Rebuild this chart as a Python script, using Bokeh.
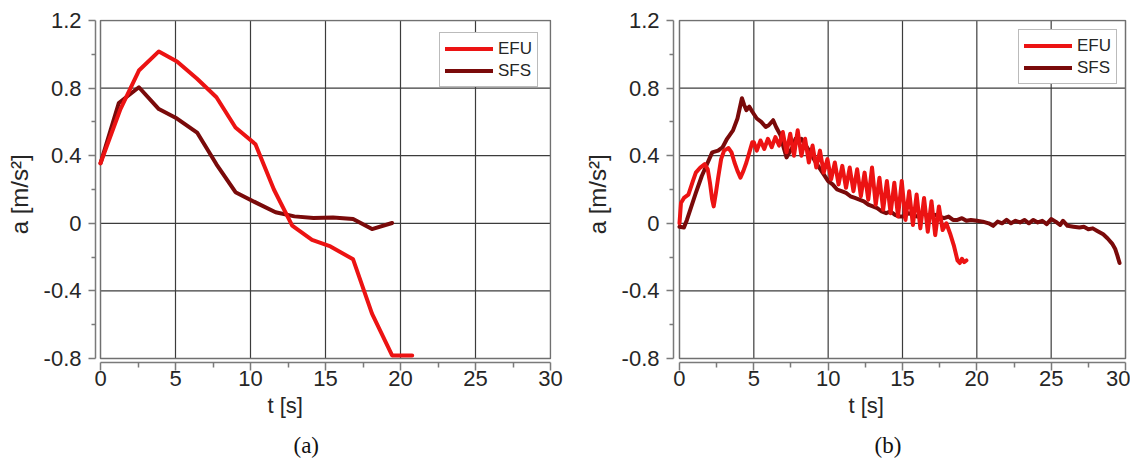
from bokeh.plotting import figure
from bokeh.models import Range1d, FixedTicker, NumeralTickFormatter, Legend, LegendItem, Title
from bokeh.layouts import row
from bokeh.embed import file_html
from bokeh.resources import INLINE

# ---------------- data ----------------
x_ticks = [0, 5, 10, 15, 20, 25, 30]
x_minor = [2.5, 7.5, 12.5, 17.5, 22.5, 27.5]
y_ticks = [-0.8, -0.4, 0, 0.4, 0.8, 1.2]
y_minor = [-0.6, -0.2, 0.2, 0.6, 1.0]
y_tick_labels = ["-0.8", "-0.4", "0", "0.4", "0.8", "1.2"]
x_label = "t [s]"
y_label = "a  [m/s\u00b2]"
series_names = ["EFU", "SFS"]
captions = ["(a)", "(b)"]

# panel (a)
a_efu_t = [0.0, 1.33, 2.56, 3.89, 5.1, 6.44, 7.73, 9.0, 10.33, 11.56, 12.78, 14.1, 15.33, 16.84, 18.1, 19.44, 20.78]
a_efu_a = [0.355, 0.676, 0.904, 1.017, 0.958, 0.855, 0.746, 0.567, 0.468, 0.2, -0.014, -0.098, -0.137, -0.213, -0.534, -0.782, -0.782]
a_sfs_t = [0.0, 1.22, 2.56, 3.89, 5.1, 6.44, 7.73, 9.0, 10.33, 11.67, 12.93, 14.2, 15.5, 16.84, 18.1, 19.44]
a_sfs_a = [0.355, 0.712, 0.805, 0.676, 0.62, 0.537, 0.349, 0.184, 0.124, 0.065, 0.041, 0.031, 0.035, 0.026, -0.034, 0.002]

# panel (b)
b_efu_t = [0.0, 0.1, 0.3, 0.6, 0.9, 1.1, 1.4, 1.7, 1.9, 2.05, 2.2, 2.3, 2.45, 2.6, 2.8, 3.0, 3.3, 3.5, 3.7, 3.9,
           4.1, 4.3, 4.5, 4.7, 4.9,
           5.0, 5.2, 5.45, 5.7, 5.95, 6.2, 6.45, 6.7, 6.95, 7.2, 7.45, 7.7, 7.95, 8.2, 8.45, 8.7, 8.95, 9.2, 9.45, 9.7,
           9.95, 10.2, 10.45, 10.7, 10.95, 11.2, 11.45, 11.7, 11.95, 12.2, 12.45, 12.7, 12.95, 13.2, 13.45, 13.7,
           13.95, 14.2, 14.45, 14.7, 14.95, 15.2, 15.45, 15.7, 15.95, 16.2, 16.45, 16.7, 16.95, 17.2, 17.45, 17.7,
           17.95, 18.2, 18.45, 18.7, 18.85, 19.0, 19.15, 19.3]
b_efu_a = [0.0, 0.12, 0.15, 0.17, 0.25, 0.30, 0.33, 0.35, 0.32, 0.24, 0.14, 0.10, 0.18, 0.27, 0.38, 0.43, 0.445, 0.42, 0.36, 0.31,
           0.27, 0.31, 0.36, 0.42, 0.48,
           0.48, 0.43, 0.49, 0.44, 0.50, 0.45, 0.51, 0.46, 0.54, 0.42, 0.53, 0.40, 0.55, 0.40, 0.50, 0.36, 0.46, 0.33, 0.43, 0.30,
           0.38, 0.26, 0.36, 0.23, 0.34, 0.21, 0.33, 0.19, 0.32, 0.16, 0.30, 0.14, 0.33, 0.11, 0.27, 0.08,
           0.25, 0.06, 0.24, 0.04, 0.25, 0.02, 0.19, -0.01, 0.17, -0.03, 0.15, -0.05, 0.13, -0.07, 0.10, -0.04,
           0.0, -0.06, -0.13, -0.22, -0.235, -0.21, -0.23, -0.22]
b_sfs_t = [0.0, 0.3, 0.5, 0.8, 1.1, 1.5, 1.9, 2.2, 2.6, 2.9, 3.2, 3.6, 3.9, 4.2, 4.35, 4.5, 4.7, 4.9, 5.2, 5.5,
           5.8, 6.0, 6.3, 6.5, 6.8, 7.0, 7.2, 7.4, 7.6, 7.8, 8.0, 8.2, 8.5, 8.8, 9.1, 9.4, 9.7, 10.0, 10.3, 10.6,
           10.9, 11.2, 11.5, 11.8, 12.1, 12.4, 12.7, 13.0, 13.3, 13.6, 13.9, 14.2, 14.5, 14.8, 15.1, 15.4, 15.7, 16.0,
           16.3, 16.6, 16.9, 17.2, 17.5, 17.8, 18.1, 18.4, 18.7, 19.0, 19.3, 19.6, 20.0, 20.4, 20.8, 21.1, 21.4, 21.7,
           22.0, 22.3, 22.6, 22.9, 23.2, 23.5, 23.8, 24.1, 24.4, 24.7, 25.0, 25.3, 25.6, 25.8, 26.1, 26.5, 26.9, 27.2,
           27.5, 27.8, 28.1, 28.5, 28.8, 29.1, 29.3, 29.45, 29.6]
b_sfs_a = [-0.02, -0.025, 0.02, 0.10, 0.18, 0.28, 0.36, 0.42, 0.43, 0.45, 0.50, 0.55, 0.62, 0.74, 0.70, 0.67, 0.69, 0.66, 0.62, 0.60,
           0.57, 0.58, 0.61, 0.57, 0.52, 0.45, 0.39, 0.42, 0.45, 0.50, 0.48, 0.50, 0.46, 0.42, 0.37, 0.33, 0.29, 0.25, 0.23, 0.20,
           0.19, 0.18, 0.16, 0.15, 0.14, 0.13, 0.11, 0.10, 0.09, 0.07, 0.06, 0.07, 0.05, 0.04, 0.04, 0.06, 0.05, 0.04,
           0.06, 0.05, 0.04, 0.05, 0.04, 0.03, 0.04, 0.02, 0.02, 0.03, 0.015, 0.02, 0.015, 0.01, 0.0, -0.015, 0.01, 0.0,
           0.02, 0.0, 0.015, 0.005, 0.02, 0.0, 0.02, 0.005, 0.015, -0.005, 0.025, 0.01, -0.01, 0.015, -0.015, -0.02, -0.025, -0.02,
           -0.035, -0.03, -0.045, -0.065, -0.09, -0.12, -0.15, -0.19, -0.235]

# ---------------- style ----------------
FONT = "Liberation Sans"
SERIF = "Liberation Serif"
EFU_COLOR = "#ec1313"
SFS_COLOR = "#7a0a0a"
GRID_COLOR = "#3c3c3c"
BOX_COLOR = "#707070"
AXIS_COLOR = "#7a7a7a"
TEXT_COLOR = "#262626"

Y_PX = 169.5   # pixels per unit of a
FRAME_H = 344
TOP = 19
HEIGHT = 467


def panel(efu_t, efu_a, sfs_t, sfs_a, caption, width, b_left, b_right, frame_w, x_px, left_gap,
          legend_margin, xlabel_off, cap_off):
    x0 = -left_gap / x_px
    x1 = x0 + frame_w / x_px
    y1 = 1.2 + 1.0 / Y_PX
    y0 = y1 - FRAME_H / Y_PX
    p = figure(width=width, height=HEIGHT, x_range=Range1d(x0, x1), y_range=Range1d(y0, y1),
               output_backend="svg", toolbar_location=None,
               min_border_left=b_left, min_border_right=b_right, min_border_top=TOP,
               min_border_bottom=HEIGHT - TOP - FRAME_H)
    p.outline_line_color = None
    p.xgrid.visible = False
    p.ygrid.visible = False
    p.background_fill_color = "white"
    p.border_fill_color = "white"

    # grid lines and box inside the axis limits
    vx = x_ticks[1:-1]
    p.segment(x0=vx, y0=[y_ticks[0]] * len(vx), x1=vx, y1=[y_ticks[-1]] * len(vx),
              line_color=GRID_COLOR, line_width=1.2)
    hy = y_ticks[1:-1]
    p.segment(x0=[x_ticks[0]] * len(hy), y0=hy, x1=[x_ticks[-1]] * len(hy), y1=hy,
              line_color=GRID_COLOR, line_width=1.2)
    p.quad(left=x_ticks[0], right=x_ticks[-1], bottom=y_ticks[0], top=y_ticks[-1],
           fill_color=None, line_color=BOX_COLOR, line_width=1.5)

    r_sfs = p.line(sfs_t, sfs_a, line_color=SFS_COLOR, line_width=4, line_join="round", line_cap="round")
    r_efu = p.line(efu_t, efu_a, line_color=EFU_COLOR, line_width=4, line_join="round", line_cap="round")

    legend = Legend(items=[LegendItem(label=series_names[0], renderers=[r_efu]),
                           LegendItem(label=series_names[1], renderers=[r_sfs])],
                    location="top_right")
    legend.margin = legend_margin
    legend.padding = 5
    legend.spacing = 1
    legend.glyph_width = 48
    legend.glyph_height = 21
    legend.label_height = 21
    legend.label_standoff = 5
    legend.label_text_font = FONT
    legend.label_text_font_size = "17px"
    legend.label_text_color = TEXT_COLOR
    legend.border_line_color = "#777777"
    legend.border_line_width = 1.5
    legend.background_fill_color = "white"
    legend.background_fill_alpha = 1.0
    p.add_layout(legend)

    # axes
    xa = p.xaxis[0]
    xa.ticker = FixedTicker(ticks=x_ticks, minor_ticks=x_minor)
    xa.bounds = (x_ticks[0], x_ticks[-1])
    ya = p.yaxis[0]
    ya.ticker = FixedTicker(ticks=y_ticks, minor_ticks=y_minor)
    ya.bounds = (y_ticks[0], y_ticks[-1])
    ya.formatter = NumeralTickFormatter(format="0.[0]")
    ya.major_label_overrides = dict(zip(y_ticks, y_tick_labels))
    ya.axis_label = y_label
    for ax in (xa, ya):
        ax.axis_line_color = AXIS_COLOR
        ax.axis_line_width = 1.5
        ax.major_tick_line_color = AXIS_COLOR
        ax.minor_tick_line_color = AXIS_COLOR
        ax.major_tick_line_width = 1.5
        ax.minor_tick_line_width = 1.5
        ax.major_tick_in = 0
        ax.minor_tick_in = 0
        ax.major_label_text_font = FONT
        ax.major_label_text_font_size = "22px"
        ax.major_label_text_color = TEXT_COLOR
        ax.axis_label_text_font = FONT
        ax.axis_label_text_font_size = "24px"
        ax.axis_label_text_font_style = "normal"
        ax.axis_label_text_color = TEXT_COLOR
    xa.major_tick_out = 8
    xa.minor_tick_out = 5
    xa.major_label_standoff = 0
    ya.major_tick_out = 7
    ya.minor_tick_out = 4
    ya.major_label_standoff = 7
    ya.axis_label_standoff = 8

    t1 = Title(text=x_label, align="left", offset=xlabel_off, text_font=FONT, text_font_size="22px",
               text_font_style="normal", text_color=TEXT_COLOR, standoff=5)
    p.add_layout(t1, "below")
    t2 = Title(text=caption, align="left", offset=cap_off, text_font=SERIF, text_font_size="23px",
               text_font_style="normal", text_color="#111111", standoff=20)
    p.add_layout(t2, "below")
    return p


p1 = panel(a_efu_t, a_efu_a, a_sfs_t, a_sfs_a, captions[0], width=580, b_left=95, b_right=29,
           frame_w=456, x_px=15.0, left_gap=5, legend_margin=13, xlabel_off=172, cap_off=198)
p2 = panel(b_efu_t, b_efu_a, b_sfs_t, b_sfs_a, captions[1], width=550, b_left=92, b_right=3,
           frame_w=455, x_px=14.9, left_gap=6, legend_margin=10, xlabel_off=175, cap_off=201)

layout = row(p1, p2)
open("out.html", "w").write(file_html(layout, INLINE))
